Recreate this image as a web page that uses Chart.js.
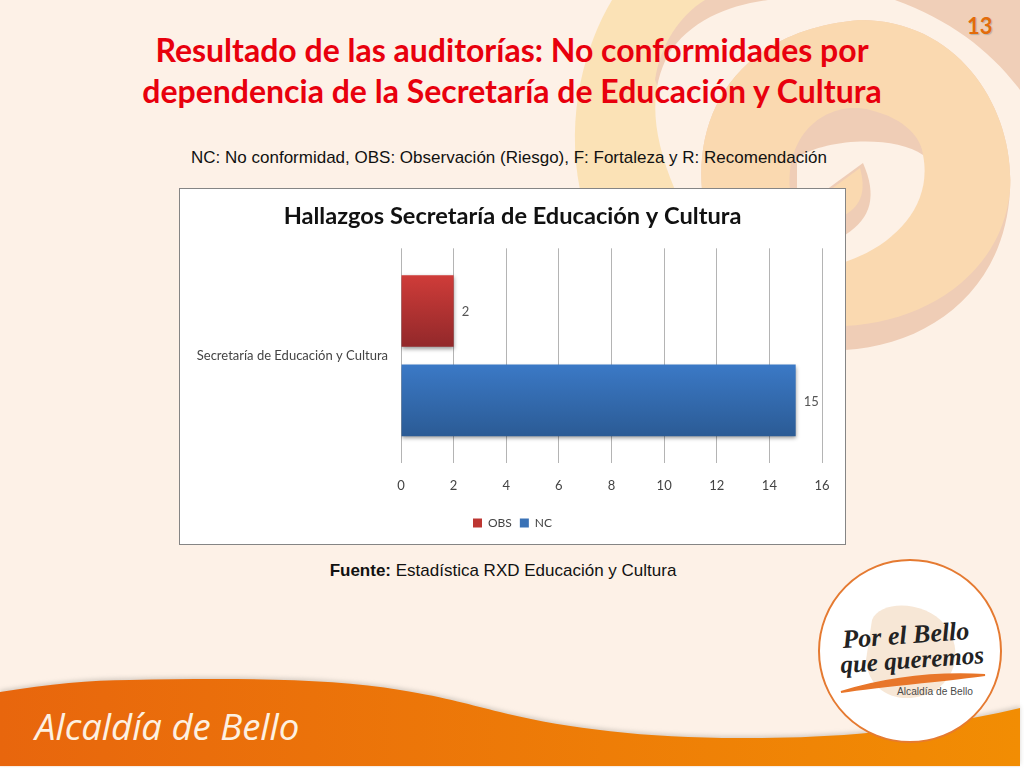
<!DOCTYPE html>
<html lang="es">
<head>
<meta charset="utf-8">
<title>Hallazgos Secretaría de Educación y Cultura</title>
<script src="https://cdn.jsdelivr.net/npm/chart.js@4/dist/chart.umd.min.js"></script>
<style>
  html, body { margin: 0; padding: 0; background: #fff; }
  #slide { position: relative; width: 1024px; height: 768px; overflow: hidden; }
  #art { position: absolute; left: 0; top: 0; }
  .line { position: absolute; white-space: nowrap; text-align: center; }
  .head { left: 0; width: 1024px; font: bold 32px Lato, sans-serif; color: #e8000d; }
  .note { font: 17px "Liberation Sans", Arial, sans-serif; color: #111; }
  #box { position: absolute; left: 179px; top: 188px; width: 665px; height: 355px; background: #fff; border: 1px solid #858585; }
  #chart { display: block; }
</style>
</head>
<body>
<div id="slide">
  <svg id="art" width="1024" height="768" viewBox="0 0 1024 768">
    <defs>
      <linearGradient id="band" x1="0" x2="1" y1="0" y2="0">
        <stop offset="0" stop-color="#e8660d"/>
        <stop offset="1" stop-color="#f28d03"/>
      </linearGradient>
      <filter id="soft"><feGaussianBlur stdDeviation="2"/></filter>
    </defs>
    <rect width="1020" height="767" fill="#fdf1e7"/>
    <!-- swirl behind the title -->
    <path d="M580 190 C565 115 585 45 612 0 L705 0 L705 190 Z" fill="#fbe2b6"/>
    <path d="M655 80 C660 45 680 15 705 0 L1020 0 L1020 120 L700 190 Z" fill="#f0cfb8"/>
    <path d="M675 190 C650 130 650 90 668 55 C690 20 730 5 768 0 L895 0 C950 20 990 50 1020 90 L1020 500 L675 500 Z" fill="#fdf1e6"/>
    <path d="M702 190 C695 110 740 30 860 20 C960 20 1015 110 1010 190 C1005 290 930 345 845 350 L702 350 Z" fill="#efcdb6"/>
    <path d="M702 190 C695 110 740 30 860 20 C960 20 1015 110 1010 190 C1003 270 930 322 845 326 L702 326 Z" fill="#fad9b0"/>
    <path d="M790 190 C785 130 830 100 870 110 C905 118 925 140 923 160 L790 190 Z" fill="#efcdb6"/>
    <path d="M797 158 C825 138 895 135 923 155 C933 205 895 245 845 262 L797 190 Z" fill="#fdf1e6"/>
    <path d="M826 190 L863 163 C877 195 872 218 845 235 Z" fill="#efcdb6"/>
    <path d="M830 190 L860 168 C866 190 862 205 845 215 Z" fill="#fad9b0"/>
    <!-- bottom band -->
    <path d="M0 692 C50 684 90 680 130 680 C230 678 330 678 400 690 C450 698 470 705 500 712 C560 727 640 738 740 738 C810 738 900 736 1020 708 L1020 766 L0 766 Z" fill="#b8b0a8" opacity="0.55" filter="url(#soft)" transform="translate(0,-2)"/>
    <path d="M0 692 C50 684 90 680 130 680 C230 678 330 678 400 690 C450 698 470 705 500 712 C560 727 640 738 740 738 C810 738 900 736 1020 708 L1020 766 L0 766 Z" fill="url(#band)"/>
    <text x="35" y="740" font-family="'Open Sans', sans-serif" font-style="italic" font-size="36.5" fill="#fdf1e2">Alcaldía de Bello</text>
    <!-- logo -->
    <circle cx="910" cy="651" r="91" fill="#fff" stroke="#e57a31" stroke-width="2"/>
    <path d="M872 620 C880 600 925 600 945 625 C965 650 955 685 925 695 C895 705 868 690 866 660 Z" fill="#f7e7d6"/>
    <text transform="translate(843,648) rotate(-4)" font-family="'Liberation Serif', serif" font-style="italic" font-weight="bold" font-size="26" fill="#222">Por el Bello</text>
    <text transform="translate(841,673) rotate(-4)" font-family="'Liberation Serif', serif" font-style="italic" font-weight="bold" font-size="25" fill="#222">que queremos</text>
    <path d="M841 692 C880 680 930 672 985 675 C940 681 890 685 841 692 Z" fill="#e8762a" stroke="#e8762a" stroke-width="2"/>
    <text x="897" y="695" font-family="'Liberation Sans', sans-serif" font-size="10.2" fill="#4a4a4a">Alcaldía de Bello</text>
  </svg>

  <div class="line head" style="top:30px">Resultado de las auditorías: No conformidades por</div>
  <div class="line head" style="top:71px">dependencia de la Secretaría de Educación y Cultura</div>
  <div class="line note" style="left:0;width:1018px;top:148px">NC: No conformidad, OBS: Observación (Riesgo), F: Fortaleza y R: Recomendación</div>
  <div class="line" style="left:967px;top:12px;font:bold 22px Lato,sans-serif;color:#e36c0a;text-shadow:1px 1px 1px #b9b0a6">13</div>

  <div id="box"><canvas id="chart" width="665" height="355"></canvas></div>

  <div class="line note" style="left:0;width:1006px;top:561px"><b>Fuente:</b> Estadística RXD Educación y Cultura</div>
</div>

<script>
'use strict';

// ── Data ──────────────────────────────────────────────────────────────────
var categories = ['Secretaría de Educación y Cultura'];
var obsValues  = [2];
var ncValues   = [15];
var xTicks     = [0, 2, 4, 6, 8, 10, 12, 14, 16];

var chartTitle = 'Hallazgos Secretaría de Educación y Cultura';
var LABEL_FONT = 'Lato, sans-serif';

// colours of the bars, top and bottom of the gradient
var SHADES = [
  { top: '#cf3c39', bottom: '#92282a' },
  { top: '#3b79c6', bottom: '#2b5b95' },
];

// ── Plugins ───────────────────────────────────────────────────────────────

// vertical gradient per bar; the bar options are frozen, so swap the object
var barGradient = {
  id: 'barGradient',
  afterDatasetsUpdate: function (chart) {
    chart.data.datasets.forEach(function (ds, i) {
      chart.getDatasetMeta(i).data.forEach(function (el) {
        var half = el.height / 2;
        var g = chart.ctx.createLinearGradient(0, el.y - half, 0, el.y + half);
        g.addColorStop(0, SHADES[i].top);
        g.addColorStop(1, SHADES[i].bottom);
        el.options = Object.assign({}, el.options, { backgroundColor: g });
      });
    });
  },
};

var barShadow = {
  id: 'barShadow',
  beforeDatasetsDraw: function (chart) {
    var ctx = chart.ctx;
    ctx.save();
    ctx.shadowColor = 'rgba(0,0,0,0.4)';
    ctx.shadowBlur = 4;
    ctx.shadowOffsetY = 2;
  },
  afterDatasetsDraw: function (chart) {
    chart.ctx.restore();
  },
};

// value printed to the right of each bar
var valueLabels = {
  id: 'valueLabels',
  afterDraw: function (chart) {
    var ctx = chart.ctx;
    ctx.save();
    ctx.font = '13px ' + LABEL_FONT;
    ctx.fillStyle = '#555';
    ctx.textAlign = 'left';
    ctx.textBaseline = 'middle';
    chart.data.datasets.forEach(function (ds, i) {
      chart.getDatasetMeta(i).data.forEach(function (el, j) {
        ctx.fillText(ds.data[j], el.x + 8, el.y + 1);
      });
    });
    ctx.restore();
  },
};

// ── Chart ─────────────────────────────────────────────────────────────────

new Chart(document.getElementById('chart'), {
  type: 'bar',
  data: {
    labels: categories,
    datasets: [
      { label: 'OBS', data: obsValues, backgroundColor: '#bd3632', categoryPercentage: 0.8333, barPercentage: 0.8 },
      { label: 'NC',  data: ncValues,  backgroundColor: '#3a72b6', categoryPercentage: 0.8333, barPercentage: 0.8 },
    ],
  },
  plugins: [barGradient, barShadow, valueLabels],
  options: {
    indexAxis: 'y',
    responsive: false,
    animation: false,
    layout: { padding: { bottom: 5 } },
    scales: {
      x: {
        min: xTicks[0],
        max: xTicks[xTicks.length - 1],
        border: { display: false },
        grid: { color: '#b4b4b4', lineWidth: 1, drawTicks: false },
        // right margin on the axis only, so title and legend stay centred on the box
        afterFit: function (axis) { axis.height = 46; axis.paddingRight = 23; },
        ticks: {
          stepSize: xTicks[1] - xTicks[0],
          padding: 15,
          color: '#444',
          font: { family: LABEL_FONT, size: 13 },
        },
      },
      y: {
        border: { display: false },
        grid: { display: false },
        afterFit: function (axis) { axis.width = 221; },
        ticks: {
          padding: 5,
          color: '#444',
          font: { family: LABEL_FONT, size: 13 },
        },
      },
    },
    plugins: {
      title: {
        display: true,
        text: chartTitle,
        color: '#111',
        padding: { top: 13, bottom: 18 },
        font: { family: LABEL_FONT, size: 23.6, weight: 'bold' },
      },
      legend: {
        position: 'bottom',
        labels: {
          boxWidth: 9,
          boxHeight: 9,
          padding: 8,
          color: '#444',
          font: { family: LABEL_FONT, size: 12 },
        },
      },
      tooltip: { enabled: false },
    },
  },
});
</script>
</body>
</html>
